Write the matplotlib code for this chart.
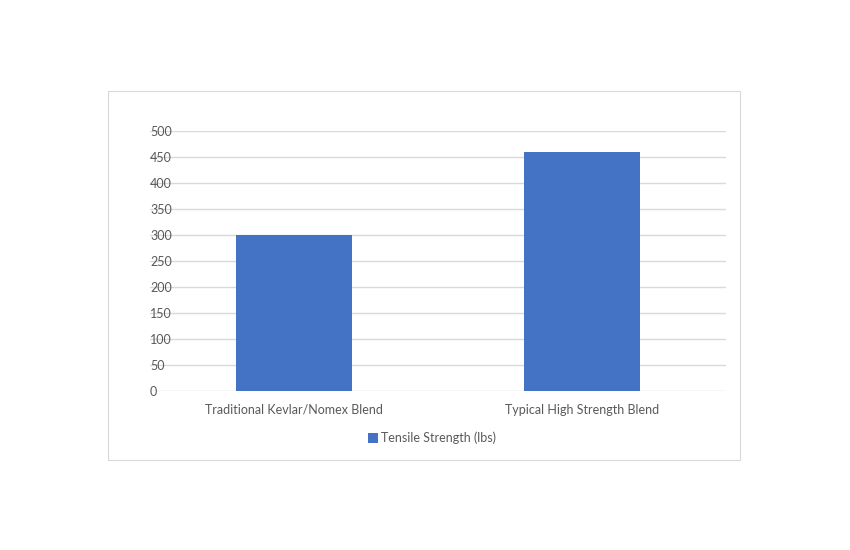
import matplotlib
matplotlib.use("Agg")
import matplotlib.pyplot as plt
from matplotlib.patches import Rectangle

categories = ["Traditional Kevlar/Nomex Blend", "Typical High Strength Blend"]
values = [300, 460]
series_name = "Tensile Strength (lbs)"
yticks = [0, 50, 100, 150, 200, 250, 300, 350, 400, 450, 500]

plt.rcParams['font.family'] = ['Lato', 'DejaVu Sans']
text_color = "#595959"
grid_color = "#d9d9d9"
bar_color = "#4472C4"

fig = plt.figure(figsize=(8.5, 5.5), dpi=100)
fig.patch.set_facecolor("white")

# outer chart border
fig.add_artist(Rectangle((108/850, 1-460/550), (740-108)/850, (460-91)/550,
                         transform=fig.transFigure, fill=False,
                         edgecolor=grid_color, linewidth=0.8))

ax = fig.add_axes([150/850, 1-391/550, (726-150)/850, (391-131)/550])
x = list(range(len(categories)))
ax.bar(x, values, width=0.4, color=bar_color, label=series_name, zorder=3)
ax.set_xlim(-0.5, len(categories)-0.5)
ax.set_ylim(0, 500)
ax.set_yticks(yticks)
ax.set_xticks(x)
ax.set_xticklabels(categories)
ax.grid(axis='y', color=grid_color, linewidth=1, zorder=0)
for s in ax.spines.values():
    s.set_visible(False)
ax.tick_params(axis='both', length=0, labelsize=9, colors=text_color)
ax.tick_params(axis='y', pad=14)
ax.tick_params(axis='x', pad=9)
for lbl in ax.get_yticklabels():
    lbl.set_horizontalalignment('left')
    lbl.set_x(-0.0)
import matplotlib.transforms as mtransforms
offset = mtransforms.ScaledTranslation(-28/100, 0, fig.dpi_scale_trans)
for lbl in ax.get_yticklabels():
    lbl.set_transform(ax.get_yaxis_transform() + offset)
ax.tick_params(axis='y', pad=0)

leg = fig.legend(loc='center', bbox_to_anchor=(432/850, 1-438/550), frameon=False,
                 fontsize=9, handlelength=0.8, handleheight=0.8, handletextpad=0.3)
for t in leg.get_texts():
    t.set_color(text_color)

fig.savefig("out.png", dpi=100, facecolor="white")
